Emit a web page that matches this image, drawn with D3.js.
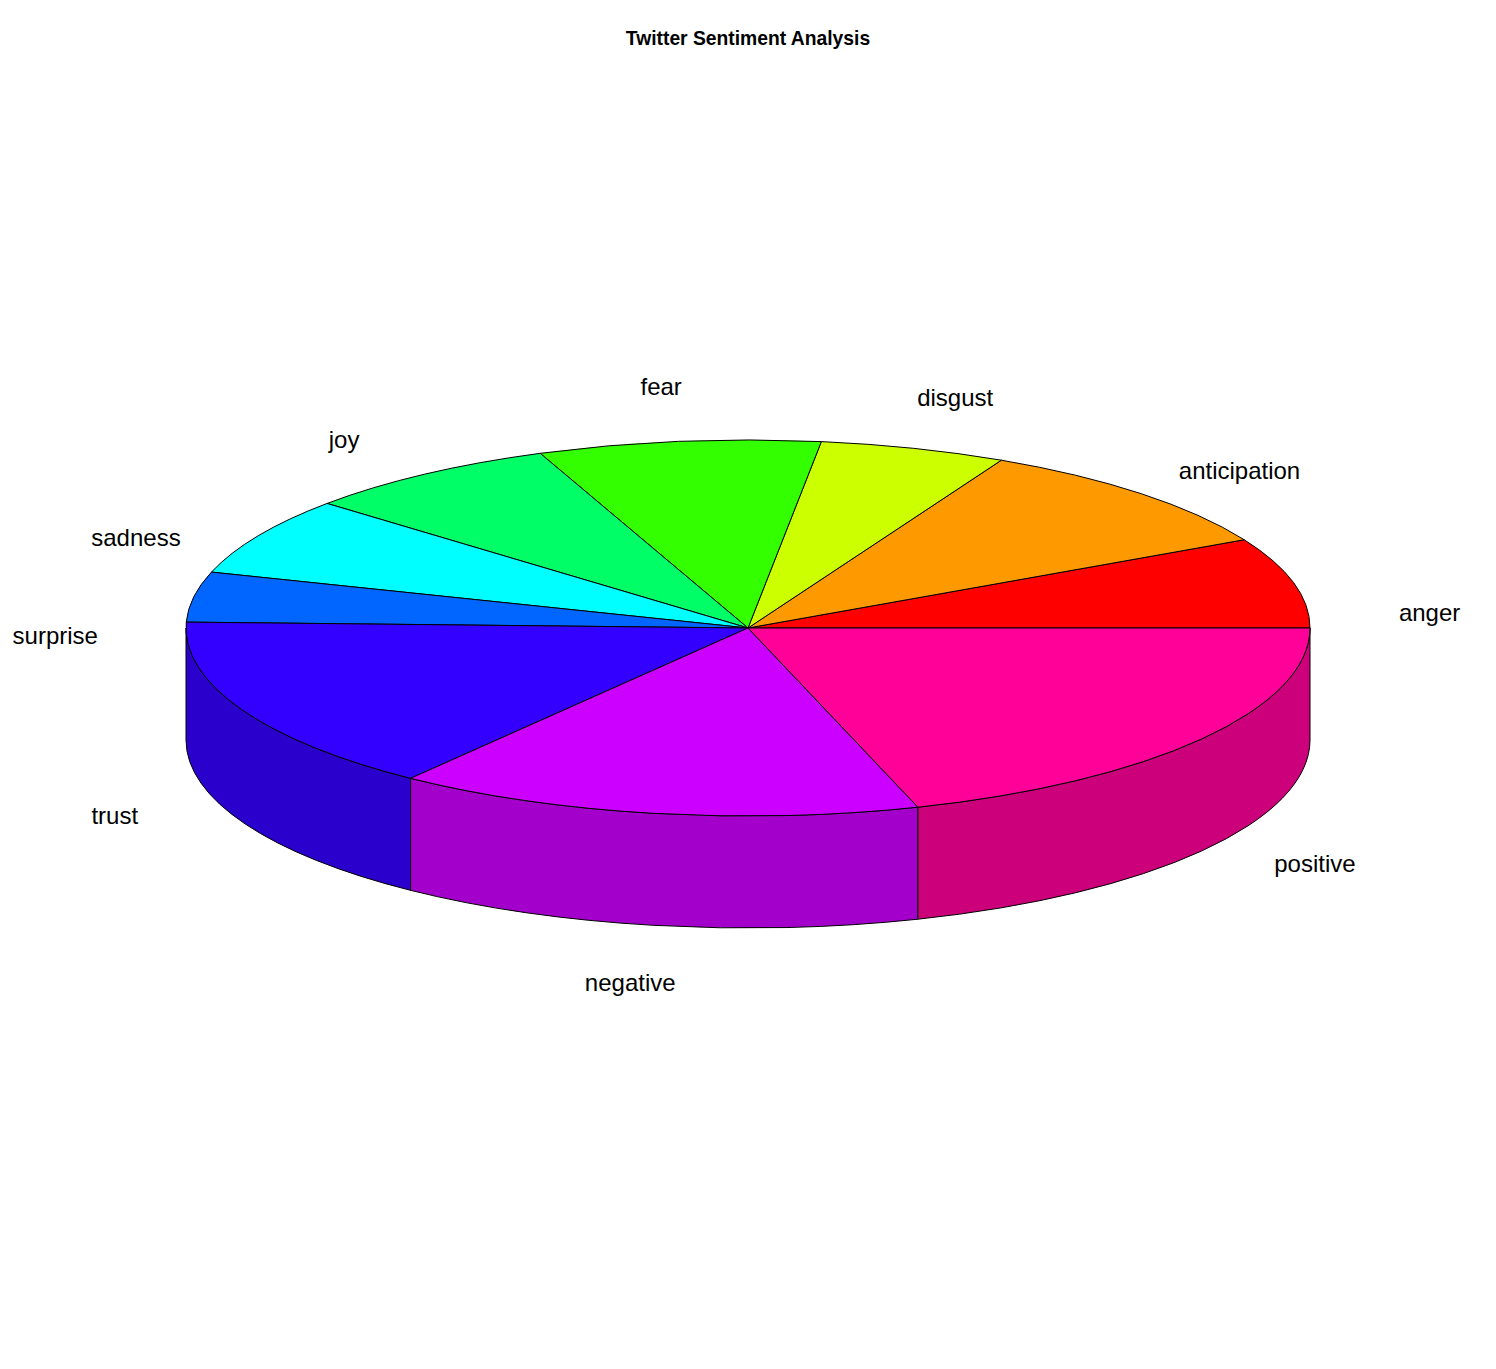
<!DOCTYPE html>
<html>
<head>
<meta charset="utf-8">
<script src="https://cdn.jsdelivr.net/npm/d3@7"></script>
<style>
  html, body { margin: 0; padding: 0; background: #ffffff; }
  svg { display: block; }
  text { font-family: "Liberation Sans", Arial, sans-serif; }
</style>
</head>
<body>
<svg id="chart" width="1496" height="1369"></svg>
<script>
// ---- data ----
const categories = ["anger", "anticipation", "disgust", "fear", "joy",
                    "sadness", "surprise", "trust", "negative", "positive"];
const counts = [28.0, 35.2, 19.3, 29.2, 26.8, 24.2, 15.5, 54.9, 54.5, 72.4];
const topColors = ["#FF0000", "#FF9900", "#CCFF00", "#33FF00", "#00FF66",
                   "#00FFFF", "#0066FF", "#3300FF", "#CC00FF", "#FF0099"];
const chartTitle = "Twitter Sentiment Analysis";

// ---- layout ----
const W = 1496, H = 1369;
const cx = 748, cy = 628;
const rx = 562, ry = 188;
const depth = 112;
const labelRad = 1.25;

const svg = d3.select("#chart");
svg.append("rect").attr("width", W).attr("height", H).attr("fill", "#fff");

const shade = c => {
  const k = d3.rgb(c);
  return d3.rgb(k.r * 0.8, k.g * 0.8, k.b * 0.8).formatHex();
};

// pie layout: angles measured counter-clockwise from 3 o'clock
const pie = d3.pie().sort(null).value(d => d.v).startAngle(0).endAngle(2 * Math.PI);
const arcs = pie(categories.map((c, i) => ({ name: c, v: counts[i], col: topColors[i] })));

const px = t => cx + rx * Math.cos(t);
const py = (t, dy = 0) => cy - ry * Math.sin(t) + dy;

// ---- side walls (front half only: angles between PI and 2PI) ----
const walls = svg.append("g");
arcs.forEach(a => {
  const s = Math.max(a.startAngle, Math.PI);
  const e = Math.min(a.endAngle, 2 * Math.PI);
  if (e <= s) return;
  const large = (e - s) > Math.PI ? 1 : 0;
  const d = `M${px(s)},${py(s)} A${rx},${ry} 0 ${large} 0 ${px(e)},${py(e)}` +
            ` L${px(e)},${py(e, depth)} A${rx},${ry} 0 ${large} 1 ${px(s)},${py(s, depth)} Z`;
  walls.append("path")
    .attr("d", d)
    .attr("fill", shade(a.data.col))
    .attr("stroke", "#000")
    .attr("stroke-width", 1)
    .attr("stroke-linejoin", "round");
});

// ---- top sectors ----
const tops = svg.append("g");
arcs.forEach(a => {
  const s = a.startAngle, e = a.endAngle;
  const large = (e - s) > Math.PI ? 1 : 0;
  const d = `M${cx},${cy} L${px(s)},${py(s)} A${rx},${ry} 0 ${large} 0 ${px(e)},${py(e)} Z`;
  tops.append("path")
    .attr("d", d)
    .attr("fill", a.data.col)
    .attr("stroke", "#000")
    .attr("stroke-width", 1)
    .attr("stroke-linejoin", "round");
});

// ---- labels ----
const labels = svg.append("g");
arcs.forEach(a => {
  const m = (a.startAngle + a.endAngle) / 2;
  const x = cx + labelRad * rx * Math.cos(m);
  const y = cy + 66 * (1 - Math.sin(m)) - labelRad * ry * Math.sin(m);
  labels.append("text")
    .attr("x", x)
    .attr("y", y)
    .attr("text-anchor", "middle")
    .attr("font-size", 24)
    .attr("fill", "#000")
    .text(a.data.name);
});

// ---- title ----
svg.append("text")
  .attr("x", 748)
  .attr("y", 45)
  .attr("text-anchor", "middle")
  .attr("font-size", 19.3)
  .attr("font-weight", "bold")
  .attr("fill", "#000")
  .text(chartTitle);
</script>
</body>
</html>
